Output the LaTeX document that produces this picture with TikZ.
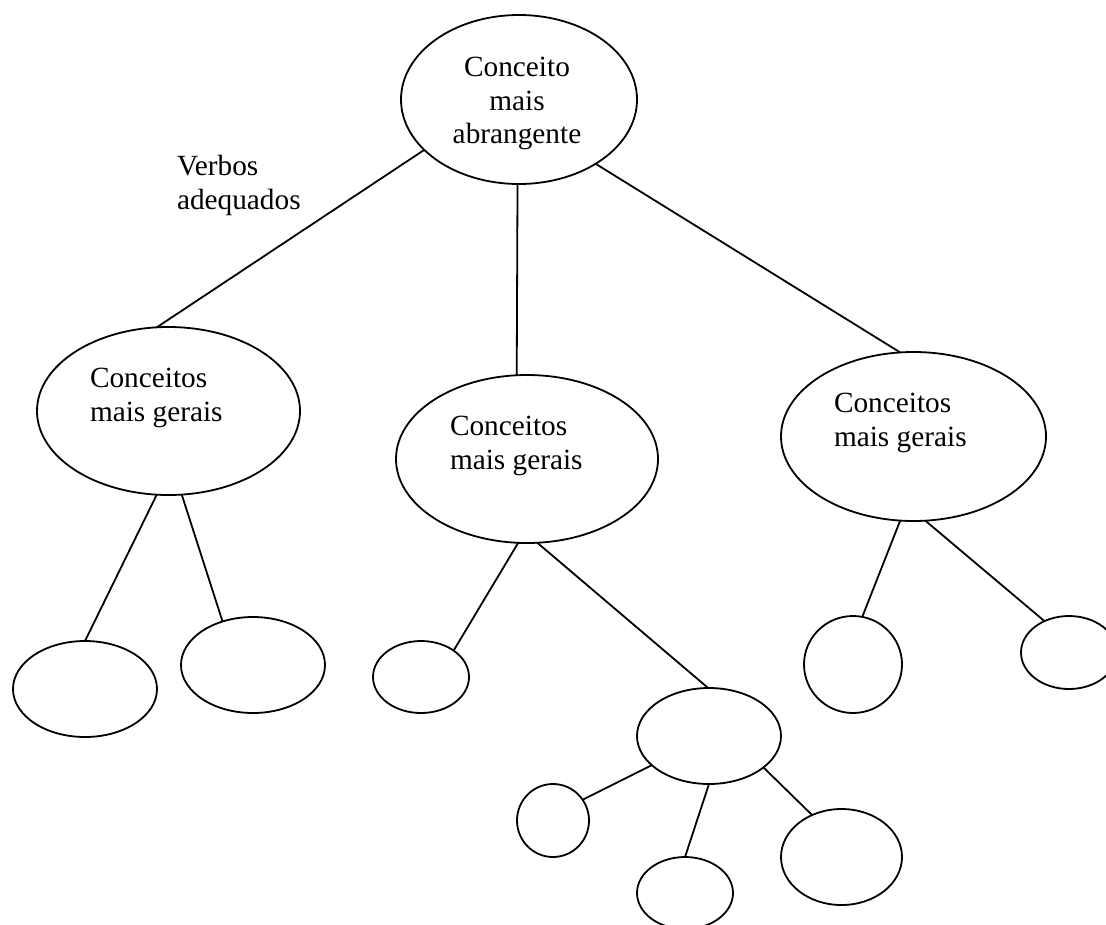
\documentclass[tikz,border=0pt]{standalone}
\usepackage{fontspec}
\setmainfont{Liberation Serif}
\usetikzlibrary{shapes.geometric}
\begin{document}
\begin{tikzpicture}[x=1pt,y=-1pt,
  blob/.style={draw, ellipse, line width=1.8pt, inner sep=0pt, outer sep=0pt},
  wh/.style 2 args={minimum width=#1pt, minimum height=#2pt},
  link/.style={draw, line width=1.8pt},
  lbl/.style={font=\fontsize{29.3}{33.7}\selectfont, inner sep=0pt, outer sep=0pt}]
\useasboundingbox (0,0) rectangle (1106,924);

% concept ellipses
\node[blob, wh={236}{169}] (top) at (519,99.5) {};
\node[blob, wh={263}{168}] (gl) at (168.5,411) {};
\node[blob, wh={262}{168}] (gc) at (527,459) {};
\node[blob, wh={265}{169}] (gr) at (913.5,436.5) {};
\node[blob, wh={144}{96}] (l1) at (85,689) {};
\node[blob, wh={144}{96}] (l2) at (253,665) {};
\node[blob, wh={96}{72}] (c1) at (421,677) {};
\node[blob, wh={144}{96}] (c2) at (709,736) {};
\node[blob, wh={72}{73}] (c2a) at (553,820.5) {};
\node[blob, wh={96}{72}] (c2b) at (685,893) {};
\node[blob, wh={121}{96}] (c2c) at (841.5,857) {};
\node[blob, wh={98}{97}] (r1) at (853,664.5) {};
\node[blob, wh={96}{73}] (r2) at (1069,652.5) {};

% texts
\node[lbl, align=center, anchor=north] (ttop) at (517,57) {Conceito\\mais\\abrangente};
\node[lbl, align=left, anchor=north west] (verbos) at (177,155) {Verbos\\adequados};
\node[lbl, align=left, anchor=north west] (tgl) at (90,368) {Conceitos\\mais gerais};
\node[lbl, align=left, anchor=north west] (tgc) at (450,416) {Conceitos\\mais gerais};
\node[lbl, align=left, anchor=north west] (tgr) at (834,393) {Conceitos\\mais gerais};

% connectors
\draw[link] (top.208) -- (gl.98);
\draw[link] (top.269) -- (gc.97);
\draw[link] (top.320) -- (gr.99);
\draw[link] (gl.262) -- (l1.90);
\draw[link] (gl.279) -- (l2.125);
\draw[link] (gc.264) -- (c1.39);
\draw[link] (gc.277) -- (c2.91);
\draw[link] (c2.207) -- (c2a.35);
\draw[link] (c2.270) -- (c2b.90);
\draw[link] (c2.330) -- (c2c.125);
\draw[link] (gr.261) -- (r1.79);
\draw[link] (gr.278) -- (r2.128);
\end{tikzpicture}
\end{document}
